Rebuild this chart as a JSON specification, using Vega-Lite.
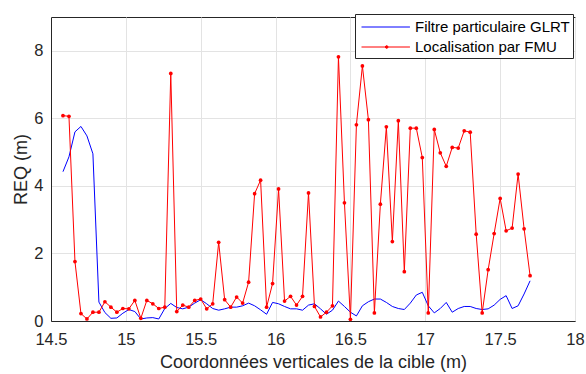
{
  "$schema": "https://vega.github.io/schema/vega-lite/v6.json",
  "width": 524,
  "height": 304,
  "autosize": {"type": "none"},
  "padding": {"left": 51, "top": 17, "right": 11, "bottom": 53},
  "background": "white",
  "config": {
    "font": "Liberation Sans",
    "view": {"stroke": "#262626", "strokeWidth": 1},
    "axis": {
      "domainColor": "#262626",
      "tickColor": "#262626",
      "gridColor": "#e3e3e3",
      "gridOpacity": 1,
      "labelColor": "#262626",
      "titleColor": "#262626",
      "labelFont": "Liberation Sans",
      "titleFont": "Liberation Sans",
      "labelFontSize": 16.5,
      "titleFontSize": 18,
      "titleFontWeight": "normal",
      "ticks": false,
      "labelFlush": false,
      "labelOverlap": false
    }
  },
  "data": {
    "values": [
      {"x": 14.58, "glrt": 4.42, "fmu": 6.08},
      {"x": 14.62, "glrt": 4.86, "fmu": 6.06},
      {"x": 14.66, "glrt": 5.60, "fmu": 1.76},
      {"x": 14.70, "glrt": 5.76, "fmu": 0.22},
      {"x": 14.74, "glrt": 5.48, "fmu": 0.06},
      {"x": 14.78, "glrt": 4.95, "fmu": 0.26},
      {"x": 14.82, "glrt": 0.56, "fmu": 0.26},
      {"x": 14.86, "glrt": 0.25, "fmu": 0.57},
      {"x": 14.90, "glrt": 0.08, "fmu": 0.41},
      {"x": 14.94, "glrt": 0.09, "fmu": 0.26},
      {"x": 14.98, "glrt": 0.23, "fmu": 0.37},
      {"x": 15.02, "glrt": 0.34, "fmu": 0.36},
      {"x": 15.06, "glrt": 0.28, "fmu": 0.61},
      {"x": 15.10, "glrt": 0.06, "fmu": 0.08},
      {"x": 15.14, "glrt": 0.09, "fmu": 0.61},
      {"x": 15.18, "glrt": 0.10, "fmu": 0.51},
      {"x": 15.22, "glrt": 0.06, "fmu": 0.37},
      {"x": 15.26, "glrt": 0.37, "fmu": 0.41},
      {"x": 15.30, "glrt": 0.52, "fmu": 7.33},
      {"x": 15.34, "glrt": 0.40, "fmu": 0.28},
      {"x": 15.38, "glrt": 0.36, "fmu": 0.47},
      {"x": 15.42, "glrt": 0.41, "fmu": 0.41},
      {"x": 15.46, "glrt": 0.53, "fmu": 0.61},
      {"x": 15.50, "glrt": 0.63, "fmu": 0.65},
      {"x": 15.54, "glrt": 0.51, "fmu": 0.36},
      {"x": 15.58, "glrt": 0.37, "fmu": 0.51},
      {"x": 15.62, "glrt": 0.32, "fmu": 2.33},
      {"x": 15.66, "glrt": 0.36, "fmu": 0.63},
      {"x": 15.70, "glrt": 0.41, "fmu": 0.41},
      {"x": 15.74, "glrt": 0.41, "fmu": 0.71},
      {"x": 15.78, "glrt": 0.45, "fmu": 0.53},
      {"x": 15.82, "glrt": 0.53, "fmu": 1.15},
      {"x": 15.86, "glrt": 0.45, "fmu": 3.77},
      {"x": 15.90, "glrt": 0.33, "fmu": 4.17},
      {"x": 15.94, "glrt": 0.20, "fmu": 0.41},
      {"x": 15.98, "glrt": 0.55, "fmu": 1.11},
      {"x": 16.02, "glrt": 0.51, "fmu": 3.91},
      {"x": 16.06, "glrt": 0.43, "fmu": 0.59},
      {"x": 16.10, "glrt": 0.36, "fmu": 0.73},
      {"x": 16.14, "glrt": 0.36, "fmu": 0.47},
      {"x": 16.18, "glrt": 0.32, "fmu": 0.73},
      {"x": 16.22, "glrt": 0.47, "fmu": 3.79},
      {"x": 16.26, "glrt": 0.51, "fmu": 0.43},
      {"x": 16.30, "glrt": 0.36, "fmu": 0.12},
      {"x": 16.34, "glrt": 0.20, "fmu": 0.26},
      {"x": 16.38, "glrt": 0.32, "fmu": 0.45},
      {"x": 16.42, "glrt": 0.59, "fmu": 7.82},
      {"x": 16.46, "glrt": 0.43, "fmu": 3.50},
      {"x": 16.50, "glrt": 0.26, "fmu": 0.05},
      {"x": 16.54, "glrt": 0.15, "fmu": 5.81},
      {"x": 16.58, "glrt": 0.45, "fmu": 7.55},
      {"x": 16.62, "glrt": 0.57, "fmu": 5.96},
      {"x": 16.66, "glrt": 0.65, "fmu": 0.24},
      {"x": 16.70, "glrt": 0.65, "fmu": 3.46},
      {"x": 16.74, "glrt": 0.55, "fmu": 5.75},
      {"x": 16.78, "glrt": 0.43, "fmu": 2.35},
      {"x": 16.82, "glrt": 0.37, "fmu": 5.93},
      {"x": 16.86, "glrt": 0.34, "fmu": 1.46},
      {"x": 16.90, "glrt": 0.53, "fmu": 5.71},
      {"x": 16.94, "glrt": 0.77, "fmu": 5.71},
      {"x": 16.98, "glrt": 0.85, "fmu": 4.84},
      {"x": 17.02, "glrt": 0.45, "fmu": 0.24},
      {"x": 17.06, "glrt": 0.24, "fmu": 5.67},
      {"x": 17.10, "glrt": 0.37, "fmu": 4.98},
      {"x": 17.14, "glrt": 0.55, "fmu": 4.58},
      {"x": 17.18, "glrt": 0.26, "fmu": 5.14},
      {"x": 17.22, "glrt": 0.37, "fmu": 5.12},
      {"x": 17.26, "glrt": 0.43, "fmu": 5.63},
      {"x": 17.30, "glrt": 0.43, "fmu": 5.59},
      {"x": 17.34, "glrt": 0.37, "fmu": 2.57},
      {"x": 17.38, "glrt": 0.34, "fmu": 0.24},
      {"x": 17.42, "glrt": 0.36, "fmu": 1.52},
      {"x": 17.46, "glrt": 0.47, "fmu": 2.59},
      {"x": 17.50, "glrt": 0.64, "fmu": 3.63},
      {"x": 17.54, "glrt": 0.75, "fmu": 2.67},
      {"x": 17.58, "glrt": 0.37, "fmu": 2.75},
      {"x": 17.62, "glrt": 0.45, "fmu": 4.35},
      {"x": 17.66, "glrt": 0.80, "fmu": 2.73},
      {"x": 17.70, "glrt": 1.19, "fmu": 1.34}
    ]
  },
  "transform": [
    {"fold": ["glrt", "fmu"], "as": ["series", "req"]}
  ],
  "encoding": {
    "x": {
      "field": "x",
      "type": "quantitative",
      "scale": {"domain": [14.5, 18], "nice": false, "zero": false},
      "axis": {
        "values": [14.5, 15, 15.5, 16, 16.5, 17, 17.5, 18],
        "format": ".1~f",
        "title": "Coordonnées verticales de la cible (m)",
        "labelPadding": 10,
        "titlePadding": 6
      }
    },
    "y": {
      "field": "req",
      "type": "quantitative",
      "scale": {"domain": [0, 9], "nice": false},
      "axis": {
        "values": [0, 2, 4, 6, 8],
        "title": "REQ (m)",
        "labelPadding": 8,
        "titlePadding": 3
      }
    },
    "color": {
      "field": "series",
      "type": "nominal",
      "scale": {"domain": ["glrt", "fmu"], "range": ["#0000ff", "#ff0000"]},
      "legend": {
        "title": null,
        "orient": "none",
        "legendX": 304,
        "legendY": -3,
        "direction": "vertical",
        "labelExpr": "datum.value === 'glrt' ? 'Filtre particulaire GLRT' : 'Localisation par FMU'",
        "labelFontSize": 15,
        "labelFont": "Liberation Sans",
        "labelColor": "#000000",
        "labelOffset": 34,
        "symbolSize": 361,
        "symbolOffset": 3,
        "symbolStrokeWidth": 1,
        "rowPadding": 2,
        "padding": 3,
        "strokeColor": "#262626",
        "fillColor": "white",
        "labelLimit": 300,
        "encode": {
          "symbols": {
            "update": {
              "shape": {"signal": "datum.value === 'fmu' ? 'M-1,0L4.1,0M1.65,0.14A0.14,0.14 0 1,1 1.65,-0.14A0.14,0.14 0 1,1 1.65,0.14Z' : 'M-1,0L4.1,0'"},
              "fill": {"signal": "datum.value === 'fmu' ? '#ff0000' : 'transparent'"},
              "fillOpacity": {"value": 1}
            }
          }
        }
      }
    }
  },
  "layer": [
    {"mark": {"type": "line", "strokeWidth": 1, "clip": true}},
    {
      "transform": [{"filter": "datum.series === 'fmu'"}],
      "mark": {"type": "point", "filled": true, "size": 14, "opacity": 1, "shape": "circle"},
      "encoding": {"color": {"value": "#ff0000"}}
    }
  ]
}
